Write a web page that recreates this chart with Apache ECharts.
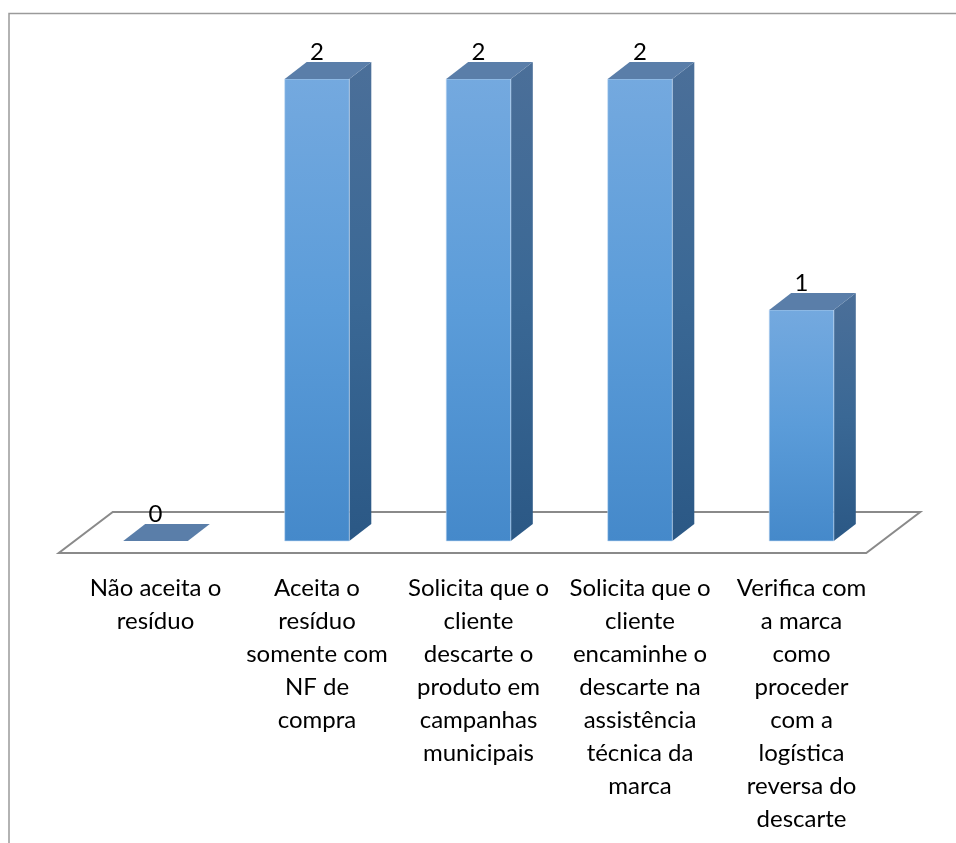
<!DOCTYPE html>
<html>
<head>
<meta charset="utf-8">
<script src="https://cdn.jsdelivr.net/npm/echarts@6/dist/echarts.min.js"></script>
<style>
  html, body { margin: 0; padding: 0; background: #ffffff; }
  #chart { width: 956px; height: 843px; }
</style>
</head>
<body>
<div id="chart"></div>
<script>
// Categories (wrapped as displayed under each column)
const categories = [
  'Não aceita o\nresíduo',
  'Aceita o\nresíduo\nsomente com\nNF de\ncompra',
  'Solicita que o\ncliente\ndescarte o\nproduto em\ncampanhas\nmunicipais',
  'Solicita que o\ncliente\nencaminhe o\ndescarte na\nassistência\ntécnica da\nmarca',
  'Verifica com\na marca\ncomo\nproceder\ncom a\nlogística\nreversa do\ndescarte'
];
// Number of answers per category
const values = [0, 2, 2, 2, 1];
const yMin = 0;
const yMax = 2;

// Oblique depth of the columns (pseudo-3D)
const DX = 22, DY = 17;
const FONT = 'Lato, "Open Sans", sans-serif';

const chart = echarts.init(document.getElementById('chart'), null, { renderer: 'canvas' });

function renderFloor(params, api) {
  const n = categories.length;
  const band = api.size([1, 0])[0];
  const first = api.coord([0, 0]);
  const last = api.coord([n - 1, 0]);
  const xL = first[0] - band / 2;
  const xR = last[0] + band / 2;
  const y0 = first[1];
  return {
    type: 'polygon',
    shape: {
      points: [
        [xL - 16, y0 + 12], [xR - 16, y0 + 12],
        [xR + 38, y0 - 29], [xL + 38, y0 - 29]
      ]
    },
    style: { fill: '#ffffff', stroke: '#8a8a8a', lineWidth: 2 },
    z2: 0
  };
}

function renderBar(params, api) {
  const i = api.value(0);
  const v = api.value(1);
  const base = api.coord([i, 0]);
  const top = api.coord([i, v]);
  const w = api.size([1, 0])[0] * 0.4;
  const x0 = base[0] - w / 2, x1 = base[0] + w / 2;
  const yb = base[1], yt = top[1];
  const children = [];
  if (yb - yt > 0.5) {
    children.push({
      type: 'polygon',
      shape: { points: [[x1, yb], [x1 + DX, yb - DY], [x1 + DX, yt - DY], [x1, yt]] },
      style: {
        fill: new echarts.graphic.LinearGradient(0, 0, 0, 1, [
          { offset: 0, color: '#4b6f99' },
          { offset: 0.5, color: '#3a6895' },
          { offset: 1, color: '#2b5885' }
        ])
      }
    });
    children.push({
      type: 'rect',
      shape: { x: x0, y: yt, width: w, height: yb - yt },
      style: {
        fill: new echarts.graphic.LinearGradient(0, 0, 0, 1, [
          { offset: 0, color: '#74a9df' },
          { offset: 0.5, color: '#5b9cd9' },
          { offset: 1, color: '#4589ca' }
        ]),
        stroke: 'rgba(200,222,245,0.6)',
        lineWidth: 1
      }
    });
  }
  children.push({
    type: 'polygon',
    shape: { points: [[x0, yt], [x1, yt], [x1 + DX, yt - DY], [x0 + DX, yt - DY]] },
    style: { fill: '#5a7ea9' }
  });
  children.push({
    type: 'text',
    style: {
      text: String(v),
      x: base[0],
      y: yt - DY - 10,
      align: 'center',
      verticalAlign: 'middle',
      font: '24px ' + FONT,
      fill: '#000000'
    }
  });
  return { type: 'group', children: children };
}

chart.setOption({
  backgroundColor: '#ffffff',
  animation: false,
  grid: { left: 74.75, right: 73.75, top: 79, bottom: 302, containLabel: false },
  xAxis: {
    type: 'category',
    data: categories,
    axisLine: { show: false },
    axisTick: { show: false },
    splitLine: { show: false },
    axisLabel: {
      interval: 0,
      margin: 31,
      fontFamily: 'Lato, "Open Sans", sans-serif',
      fontSize: 24,
      lineHeight: 33,
      color: '#000000',
      align: 'center'
    }
  },
  yAxis: {
    type: 'value',
    min: yMin,
    max: yMax,
    show: false,
    splitLine: { show: false }
  },
  graphic: [{
    type: 'rect',
    shape: { x: 9, y: 13.5, width: 1200, height: 1200 },
    style: { fill: 'none', stroke: '#9a9a9a', lineWidth: 1.5 },
    silent: true,
    z: -10
  }],
  series: [
    {
      type: 'custom',
      name: 'floor',
      data: [[0, 0]],
      encode: { x: 0, y: 1 },
      renderItem: renderFloor,
      z: 1,
      silent: true
    },
    {
      type: 'custom',
      name: 'respostas',
      data: values.map((v, i) => [i, v]),
      encode: { x: 0, y: 1 },
      renderItem: renderBar,
      z: 2,
      silent: true
    }
  ]
});
</script>
</body>
</html>
